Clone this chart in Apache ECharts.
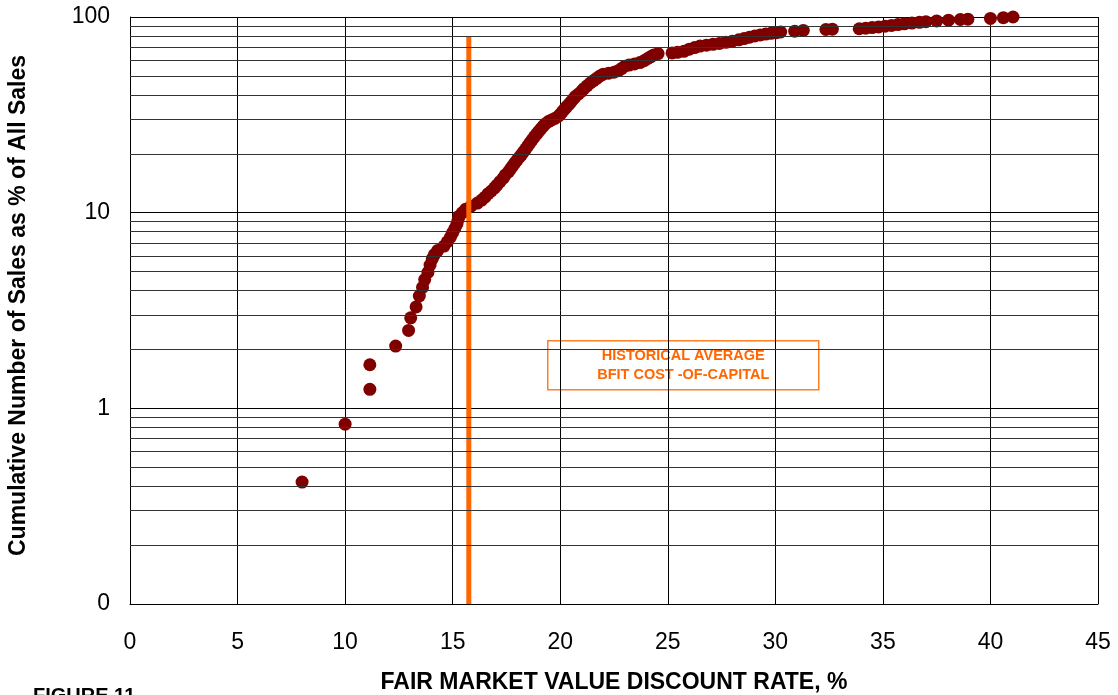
<!DOCTYPE html>
<html>
<head>
<meta charset="utf-8">
<script src="https://cdn.jsdelivr.net/npm/echarts@6/dist/echarts.min.js"></script>
<style>
  html, body { margin: 0; padding: 0; background: #fff; }
  #chart { width: 1118px; height: 695px; }
</style>
</head>
<body>
<div id="chart"></div>
<script>
// discount rate (%) of each sale
var rateX = [
  8.0, 10.0, 11.15, 11.15, 12.35, 12.95, 13.05, 13.3, 13.45, 13.6,
  13.7, 13.85, 13.95, 14.05, 14.15, 14.3, 14.6, 14.75, 14.9, 15.0,
  15.1, 15.2, 15.25, 15.3, 15.45, 15.6, 15.85, 16.15, 16.35, 16.5,
  16.65, 16.8, 16.95, 17.05, 17.2, 17.35, 17.45, 17.6, 17.7, 17.8,
  17.9, 18.0, 18.1, 18.2, 18.3, 18.4, 18.5, 18.6, 18.7, 18.8,
  18.9, 19.0, 19.1, 19.2, 19.3, 19.45, 19.6, 19.75, 19.9, 20.0,
  20.1, 20.2, 20.3, 20.4, 20.5, 20.6, 20.7, 20.85, 21.0, 21.1,
  21.25, 21.4, 21.55, 21.7, 21.85, 22.0, 22.25, 22.5, 22.7, 22.85,
  23.0, 23.2, 23.45, 23.7, 23.9, 24.05, 24.2, 24.35, 24.55, 25.2,
  25.45, 25.75, 26.0, 26.25, 26.5, 26.8, 27.1, 27.4, 27.7, 28.0,
  28.3, 28.55, 28.8, 29.05, 29.3, 29.55, 29.8, 30.05, 30.25, 30.9,
  31.3, 32.35, 32.65, 33.9, 34.2, 34.5, 34.8, 35.1, 35.4, 35.7,
  36.0, 36.35, 36.7, 37.0, 37.5, 38.05, 38.6, 38.95, 40.0, 40.6,
  41.05
];
// cumulative number of sales as % of all sales
var cumPct = [
  0.42, 0.83, 1.25, 1.67, 2.08, 2.5, 2.9, 3.3, 3.75, 4.15,
  4.55, 4.95, 5.4, 5.8, 6.1, 6.4, 6.75, 7.1, 7.5, 7.9,
  8.3, 8.75, 9.2, 9.6, 10.0, 10.4, 10.8, 11.2, 11.6, 12.0,
  12.5, 12.9, 13.4, 13.8, 14.4, 15.0, 15.6, 16.2, 16.8, 17.4,
  18.0, 18.6, 19.2, 19.8, 20.5, 21.2, 22.0, 22.8, 23.6, 24.4,
  25.2, 26.0, 26.8, 27.6, 28.4, 29.2, 29.8, 30.3, 31.0, 31.8,
  32.8, 33.8, 34.8, 35.8, 36.8, 38.0, 39.2, 40.4, 41.8, 43.0,
  44.5, 46.0, 47.3, 48.6, 50.0, 51.0, 51.6, 52.2, 53.2, 54.5,
  56.0, 56.8, 57.5, 58.5, 59.8, 61.2, 62.6, 64.0, 65.0, 65.5,
  66.0, 66.8, 68.5, 69.8, 71.0, 71.8, 72.5, 73.3, 74.2, 75.2,
  76.4, 77.6, 78.8, 80.0, 81.0, 81.8, 82.5, 83.2, 83.8, 84.6,
  85.4, 86.3, 86.7, 87.1, 87.6, 88.3, 89.0, 89.8, 90.6, 91.5,
  92.3, 93.1, 93.9, 94.7, 95.5, 96.3, 97.1, 97.5, 98.3, 99.2,
  100
];
// historical average BFIT cost of capital line
var costOfCapital = 15.75;
var costLineTop = 80;

// log grid lines between decades
var minorGrid = [0.2, 0.3, 0.4, 0.5, 0.6, 0.7, 0.8, 0.9,
                 2, 3, 4, 5, 6, 7, 8, 9,
                 20, 30, 40, 50, 60, 70, 80, 90];

var FONT = '"Liberation Sans", Arial, sans-serif';

var points = rateX.map(function (x, i) { return [x, cumPct[i]]; });

var chart = echarts.init(document.getElementById('chart'));

var option = {
  animation: false,
  backgroundColor: '#fff',
  grid: {
    left: 130, top: 17, right: 20, bottom: 91,
    containLabel: false,
    outerBoundsMode: 'none'
  },
  xAxis: {
    type: 'value',
    min: 0,
    max: 45,
    interval: 5,
    name: 'FAIR MARKET VALUE DISCOUNT RATE, %',
    nameLocation: 'middle',
    nameGap: 67,
    nameTextStyle: { fontFamily: FONT, fontSize: 23, fontWeight: 'bold', color: '#000' },
    axisLine: { lineStyle: { color: '#000', width: 1 } },
    axisTick: { show: false },
    axisLabel: { fontFamily: FONT, fontSize: 23, color: '#000', margin: 27 },
    splitLine: { show: true, lineStyle: { color: '#000', width: 1 } }
  },
  yAxis: {
    type: 'log',
    logBase: 10,
    min: 0.1,
    max: 100,
    splitNumber: 3,
    name: 'Cumulative Number of Sales as % of All Sales',
    nameLocation: 'middle',
    nameRotate: 90,
    nameGap: 100,
    nameTextStyle: {
      fontFamily: FONT, fontSize: 23, fontWeight: 'bold', color: '#000',
      padding: [0, 0, 0, 10]
    },
    axisLine: { show: true, lineStyle: { color: '#000', width: 1 } },
    axisTick: { show: false },
    axisLabel: {
      fontFamily: FONT, fontSize: 23, color: '#000', margin: 20,
      formatter: function (v) { return v < 1 ? '0' : String(Math.round(v)); }
    },
    splitLine: { show: true, lineStyle: { color: '#000', width: 1 } }
  },
  series: [
    {
      // minor log grid
      type: 'line',
      data: [],
      z: 1,
      silent: true,
      markLine: {
        silent: true,
        symbol: 'none',
        label: { show: false },
        lineStyle: { color: '#333', width: 1, type: 'solid' },
        data: minorGrid.map(function (v) { return { yAxis: v }; })
      }
    },
    {
      type: 'scatter',
      data: points,
      symbol: 'circle',
      symbolSize: 13,
      z: 3,
      itemStyle: { color: '#800000', opacity: 1 }
    },
    {
      type: 'line',
      data: [[costOfCapital, 0.1], [costOfCapital, costLineTop]],
      symbol: 'none',
      z: 4,
      lineStyle: { color: '#FF6600', width: 5 }
    }
  ],
  graphic: [
    {
      type: 'group',
      left: 547,
      top: 340,
      z: 10,
      children: [
        {
          type: 'rect',
          shape: { x: 0, y: 0, width: 271, height: 49 },
          style: { fill: '#fff', stroke: '#FF7F27', lineWidth: 1.5 }
        },
        {
          type: 'text',
          x: 135.5,
          y: 24.5,
          style: {
            text: 'HISTORICAL AVERAGE\nBFIT COST -OF-CAPITAL',
            fill: '#FF6600',
            font: 'bold 14.5px ' + FONT,
            align: 'center',
            verticalAlign: 'middle',
            lineHeight: 19
          }
        }
      ]
    },
    {
      type: 'text',
      left: 33,
      top: 686,
      style: { text: 'FIGURE 11', fill: '#000', font: 'bold 20px ' + FONT }
    }
  ]
};

chart.setOption(option);
</script>
</body>
</html>
